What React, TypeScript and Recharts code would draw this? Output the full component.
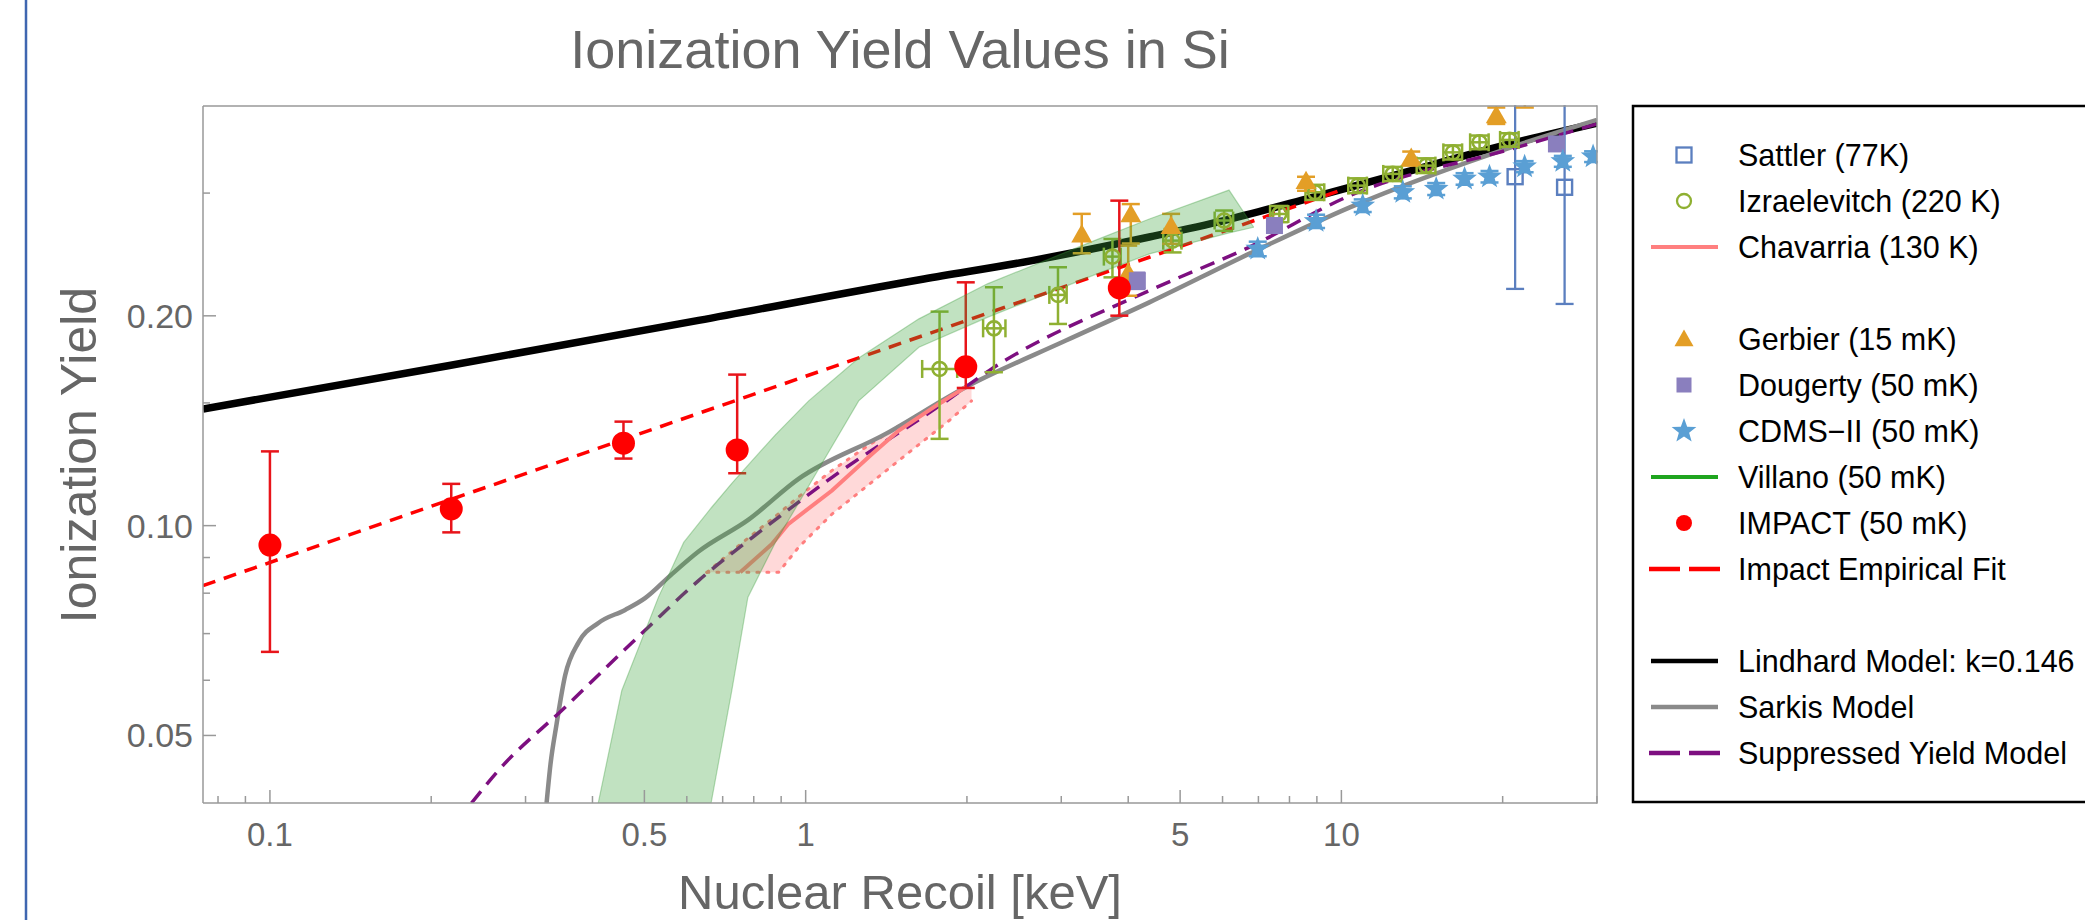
import React from 'react';
import { ComposedChart, XAxis, YAxis, Line, Area, Scatter, ErrorBar } from 'recharts';

const FONT = '"Liberation Sans", Arial, Helvetica, sans-serif';
const AXIS = '#999999';
const TXT = '#666666';

// ---------- axes ----------
const xDomain = [0.075, 30];
const yDomain = [0.04, 0.4];
const xTicks = [0.08, 0.09, 0.1, 0.2, 0.3, 0.4, 0.5, 0.6, 0.7, 0.8, 0.9, 1, 2, 3, 4, 5, 6, 7, 8, 9, 10, 20, 30];
const xMajor = [0.1, 0.5, 1, 5, 10];
const xMajorLabels = ['0.1', '0.5', '1', '5', '10'];
const yTicks = [0.05, 0.06, 0.07, 0.08, 0.09, 0.1, 0.15, 0.2, 0.3];
const yMajor = [0.05, 0.1, 0.2];
const yMajorLabels = ['0.05', '0.10', '0.20'];

// ---------- model curves ----------
const lindhardE = [0.075, 0.215, 0.631, 1.662, 2.645, 4.38, 6.04, 8.83, 12.47, 20.6, 30];
const lindhardY = [0.147, 0.1696, 0.197, 0.2259, 0.24, 0.2595, 0.274, 0.2958, 0.3178, 0.3529, 0.378];

const sarkisE = [0.3284, 0.334, 0.3428, 0.3557, 0.3768, 0.4103, 0.4602, 0.5015, 0.5627, 0.631, 0.7823, 0.97, 1.41, 1.989, 3.06, 4.38, 6.72, 10.37, 21.2, 30];
const sarkisY = [0.04, 0.0455, 0.0519, 0.061, 0.068, 0.0725, 0.0757, 0.0787, 0.0852, 0.0918, 0.102, 0.1167, 0.1354, 0.158, 0.1843, 0.2091, 0.2454, 0.2862, 0.351, 0.382];

const suppE = [0.2378, 0.2667, 0.3557, 0.5085, 0.631, 0.8408, 1.12, 1.798, 2.2, 4.38, 6.72, 10.37, 21.2, 30];
const suppY = [0.04, 0.0445, 0.0549, 0.0715, 0.0834, 0.0994, 0.1173, 0.1495, 0.1669, 0.2174, 0.2508, 0.2975, 0.3486, 0.377];

const fitE = [0.075, 0.631, 4.38, 10];
const fitY = [0.082, 0.1449, 0.2427, 0.303];

// ---------- Chavarria ----------
const chavE = [0.755, 0.865, 0.929, 1.12, 1.33, 1.492, 1.772, 1.989];
const chavY = [0.0857, 0.0941, 0.1006, 0.1123, 0.1267, 0.1369, 0.1495, 0.158];
const chavBandE = [0.654, 0.755, 0.89, 0.97, 1.12, 1.293, 1.492, 1.851, 2.04];
const chavBandLo = [0.0857, 0.0857, 0.0857, 0.0931, 0.1039, 0.1135, 0.124, 0.1414, 0.151];
const chavBandHi = [0.0857, 0.094, 0.104, 0.11, 0.12, 0.1295, 0.139, 0.152, 0.16];

// ---------- Villano band ----------
const villE = [0.41, 0.4537, 0.531, 0.592, 0.666, 0.728, 0.78, 0.878, 1.013, 1.256, 1.627, 2.184, 3.46, 4.38, 6.17, 6.86];
const villLo = [0.04, 0.04, 0.04, 0.04, 0.04, 0.058, 0.0789, 0.0946, 0.114, 0.151, 0.1803, 0.199, 0.229, 0.2454, 0.263, 0.268];
const villHi = [0.04, 0.058, 0.0789, 0.0946, 0.106, 0.115, 0.122, 0.135, 0.151, 0.174, 0.198, 0.2223, 0.2564, 0.2754, 0.303, 0.268];

// ---------- IMPACT ----------
const impactE = [0.1, 0.218, 0.457, 0.745, 1.99, 3.85];
const impactY = [0.0938, 0.1057, 0.1313, 0.1284, 0.169, 0.2193];
const impactLo = [0.0279, 0.0079, 0.0065, 0.0095, 0.0114, 0.0192];
const impactHi = [0.034, 0.0091, 0.0097, 0.0363, 0.0544, 0.0733];

// ---------- Izraelevitch ----------
const izE = [1.778, 2.246, 2.958, 3.738, 4.84, 6.04, 7.66, 8.93, 10.73, 12.47, 14.4, 16.15, 18.11, 20.6];
const izY = [0.1678, 0.1919, 0.2143, 0.2432, 0.2564, 0.274, 0.28, 0.3008, 0.3075, 0.3196, 0.3285, 0.3432, 0.3548, 0.3576];
const izYLo = [0.0346, 0.0259, 0.0196, 0.0161, 0.0098, 0.0092, 0.0075, 0.0075, 0.0075, 0.0075, 0.008, 0.008, 0.008, 0.008];
const izYHi = [0.035, 0.0279, 0.0205, 0.0146, 0.01, 0.0092, 0.0075, 0.0075, 0.0075, 0.0075, 0.008, 0.008, 0.008, 0.008];
const izXLo = [0.128, 0.102, 0.108, 0.135, 0.19, 0.24, 0.3, 0.36, 0.43, 0.5, 0.58, 0.65, 0.72, 0.82];
const izXHi = [0.14, 0.114, 0.112, 0.135, 0.19, 0.24, 0.3, 0.36, 0.43, 0.5, 0.58, 0.65, 0.72, 0.82];

// ---------- Gerbier ----------
const gerE = [3.276, 4.045, 4.0, 4.81, 8.59, 13.5, 19.46, 22.0];
const gerY = [0.2607, 0.2786, 0.2296, 0.268, 0.3109, 0.3358, 0.3863, 0.43];
const gerLo = [0.0148, 0.0246, 0.0159, 0.0143, 0.0086, 0.0073, 0.0093, 0.032];
const gerHi = [0.0194, 0.0107, 0.0226, 0.0121, 0.0057, 0.0083, 0.0117, 0.01];

// ---------- Dougerty ----------
const dougE = [4.16, 7.5, 25.2];
const dougY = [0.2246, 0.2695, 0.3529];
const dougErr = [0.006, 0.006, 0.006];

// ---------- CDMS-II ----------
const cdmsE = [6.98, 8.97, 10.96, 13.02, 15.03, 16.98, 18.9, 21.98, 25.9, 29.5];
const cdmsY = [0.2495, 0.2733, 0.2878, 0.3008, 0.3041, 0.3144, 0.3167, 0.3274, 0.3332, 0.3384];
const cdmsErr = [0.006, 0.006, 0.006, 0.006, 0.006, 0.006, 0.006, 0.006, 0.006, 0.006];

// ---------- Sattler ----------
const satE = [21.1, 26.1];
const satY = [0.3167, 0.3058];
const satLo = [0.0981, 0.0978];
const satHi = [0.15, 0.15];

// ---------- legend ----------
const legendLabels = [
  'Sattler (77K)', 'Izraelevitch (220 K)', 'Chavarria (130 K)', '',
  'Gerbier (15 mK)', 'Dougerty (50 mK)', 'CDMS\u2212II (50 mK)', 'Villano (50 mK)',
  'IMPACT (50 mK)', 'Impact Empirical Fit', '',
  'Lindhard Model: k=0.146', 'Sarkis Model', 'Suppressed Yield Model',
];
const legendIcons = [
  'openSquare', 'openCircle', 'pinkLine', '',
  'triangle', 'square', 'star', 'greenLine',
  'dot', 'redDash', '',
  'blackLine', 'grayLine', 'purpleDash',
];

// colours
const C_SAT = '#5b7fbf';
const C_IZ = '#8fb032';
const C_GER = '#e39e26';
const C_DOUG = '#8a7fbe';
const C_CDMS = '#5a9fd4';
const C_RED = '#ff0000';
const C_PURPLE = '#7d0f80';
const C_GRAY = '#8a8a8a';
const C_PINK = '#ff7f7f';

// ---------- helpers ----------
const pts = (xs: number[], ys: number[]) => xs.map((x, i) => ({ x, y: ys[i] }));
const band = (xs: number[], lo: number[], hi: number[]) => xs.map((x, i) => ({ x, range: [lo[i], hi[i]] }));
const withErr = (xs: number[], ys: number[], lo: number[], hi: number[], xlo?: number[], xhi?: number[]) =>
  xs.map((x, i) => ({ x, y: ys[i], ey: [lo[i], hi[i]], ex: xlo && xhi ? [xlo[i], xhi[i]] : [0, 0] }));

const lindhardData = pts(lindhardE, lindhardY);
const sarkisData = pts(sarkisE, sarkisY);
const suppData = pts(suppE, suppY);
const fitData = pts(fitE, fitY);
const chavData = pts(chavE, chavY);
const chavBand = band(chavBandE, chavBandLo, chavBandHi);
const villBand = band(villE, villLo, villHi);
const impactData = withErr(impactE, impactY, impactLo, impactHi);
const izData = withErr(izE, izY, izYLo, izYHi, izXLo, izXHi);
const gerData = withErr(gerE, gerY, gerLo, gerHi);
const dougData = withErr(dougE, dougY, dougErr, dougErr);
const cdmsData = withErr(cdmsE, cdmsY, cdmsErr, cdmsErr);
const satData = withErr(satE, satY, satLo, satHi);

// ---------- marker shapes ----------
const starPoints = (cx: number, cy: number, ro: number, ri: number) => {
  const p: string[] = [];
  for (let k = 0; k < 10; k++) {
    const r = k % 2 === 0 ? ro : ri;
    const a = -Math.PI / 2 + (k * Math.PI) / 5;
    p.push(`${cx + r * Math.cos(a)},${cy + r * Math.sin(a)}`);
  }
  return p.join(' ');
};
const triPoints = (cx: number, cy: number, s: number) =>
  `${cx},${cy - 1.1 * s} ${cx - s},${cy + 0.65 * s} ${cx + s},${cy + 0.65 * s}`;

const RedDot = (p: any) => <circle cx={p.cx} cy={p.cy} r={11.5} fill={C_RED} />;
const OpenCircle = (p: any) => <circle cx={p.cx} cy={p.cy} r={7} fill="none" stroke={C_IZ} strokeWidth={2.6} />;
const OpenSquare = (p: any) => <rect x={p.cx - 7.5} y={p.cy - 7.5} width={15} height={15} fill="none" stroke={C_SAT} strokeWidth={2.4} />;
const FilledSquare = (p: any) => <rect x={p.cx - 8.5} y={p.cy - 8.5} width={17} height={17} fill={C_DOUG} />;
const Tri = (p: any) => <polygon points={triPoints(p.cx, p.cy, 10.5)} fill={C_GER} />;
const StarShape = (p: any) => <polygon points={starPoints(p.cx, p.cy, 13, 5.4)} fill={C_CDMS} />;

// ---------- ticks ----------
const makeXTick = (isTop: boolean) => (props: any) => {
  const { x, y, payload } = props;
  const i = xMajor.indexOf(payload.value);
  const len = i >= 0 ? 13 : 7;
  return (
    <g>
      <line x1={x} x2={x} y1={y} y2={isTop ? y + len : y - len} stroke={AXIS} strokeWidth={1.5} />
      {!isTop && i >= 0 && (
        <text x={x} y={y + 43} textAnchor="middle" fontSize={33} fill={TXT} fontFamily={FONT}>
          {xMajorLabels[i]}
        </text>
      )}
    </g>
  );
};
const makeYTick = (isRight: boolean) => (props: any) => {
  const { x, y, payload } = props;
  const i = yMajor.indexOf(payload.value);
  const len = i >= 0 ? 13 : 7;
  return (
    <g>
      <line x1={x} x2={isRight ? x - len : x + len} y1={y} y2={y} stroke={AXIS} strokeWidth={1.5} />
      {!isRight && i >= 0 && (
        <text x={x - 10} y={y + 12} textAnchor="end" fontSize={34} fill={TXT} fontFamily={FONT}>
          {yMajorLabels[i]}
        </text>
      )}
    </g>
  );
};
const XTickBottom = makeXTick(false);
const XTickTop = makeXTick(true);
const YTickLeft = makeYTick(false);
const YTickRight = makeYTick(true);

// ---------- legend icon ----------
const LegendIcon = ({ kind, cy }: { kind: string; cy: number }) => {
  const cx = 1684;
  switch (kind) {
    case 'openSquare':
      return <rect x={cx - 7.5} y={cy - 7.5} width={15} height={15} fill="none" stroke={C_SAT} strokeWidth={2.3} />;
    case 'openCircle':
      return <circle cx={cx} cy={cy} r={7} fill="none" stroke={C_IZ} strokeWidth={2.3} />;
    case 'pinkLine':
      return <line x1={1651} x2={1718} y1={cy} y2={cy} stroke={C_PINK} strokeWidth={4} />;
    case 'triangle':
      return <polygon points={triPoints(cx, cy + 1, 9.5)} fill={C_GER} />;
    case 'square':
      return <rect x={cx - 7.5} y={cy - 7.5} width={15} height={15} fill={C_DOUG} />;
    case 'star':
      return <polygon points={starPoints(cx, cy, 13, 5.4)} fill={C_CDMS} />;
    case 'greenLine':
      return <line x1={1651} x2={1718} y1={cy} y2={cy} stroke="#1fa51f" strokeWidth={4} />;
    case 'dot':
      return <circle cx={cx} cy={cy} r={8} fill={C_RED} />;
    case 'redDash':
      return <line x1={1649} x2={1720} y1={cy} y2={cy} stroke={C_RED} strokeWidth={4.5} strokeDasharray="31 9" />;
    case 'blackLine':
      return <line x1={1651} x2={1718} y1={cy} y2={cy} stroke="#000" strokeWidth={4.5} />;
    case 'grayLine':
      return <line x1={1651} x2={1718} y1={cy} y2={cy} stroke={C_GRAY} strokeWidth={4.5} />;
    case 'purpleDash':
      return <line x1={1649} x2={1720} y1={cy} y2={cy} stroke={C_PURPLE} strokeWidth={4.5} strokeDasharray="31 9" />;
    default:
      return null;
  }
};

export default function App() {
  return (
    <div style={{ position: 'absolute', left: 0, top: 0, width: 2085, height: 920, overflow: 'hidden', background: '#fff' }}>
      <div style={{ position: 'absolute', left: 0, top: 0 }}>
        <ComposedChart width={2085} height={920} margin={{ top: 106, right: 488, bottom: 0, left: 0 }}>
          <XAxis
            dataKey="x" type="number" scale="log" domain={xDomain} allowDataOverflow ticks={xTicks} interval={0}
            tickSize={0} tickMargin={0} tick={XTickBottom} tickLine={false}
            axisLine={{ stroke: AXIS, strokeWidth: 1.5 }} height={117} orientation="bottom"
          />
          <XAxis
            xAxisId="top" dataKey="x" type="number" scale="log" domain={xDomain} allowDataOverflow ticks={xTicks} interval={0}
            tickSize={0} tickMargin={0} tick={XTickTop} tickLine={false}
            axisLine={{ stroke: AXIS, strokeWidth: 1.5 }} height={0} orientation="top"
          />
          <YAxis
            type="number" scale="log" domain={yDomain} allowDataOverflow ticks={yTicks} interval={0}
            tickSize={0} tickMargin={0} tick={YTickLeft} tickLine={false}
            axisLine={{ stroke: AXIS, strokeWidth: 1.5 }} width={203} orientation="left"
          />
          <YAxis
            yAxisId="right" type="number" scale="log" domain={yDomain} allowDataOverflow ticks={yTicks} interval={0}
            tickSize={0} tickMargin={0} tick={YTickRight} tickLine={false}
            axisLine={{ stroke: AXIS, strokeWidth: 1.5 }} width={0} orientation="right"
          />

          <Line data={lindhardData} dataKey="y" type="monotone" stroke="#000" strokeWidth={7.5} dot={false} activeDot={false} isAnimationActive={false} />
          <Line data={sarkisData} dataKey="y" type="monotone" stroke={C_GRAY} strokeWidth={4.5} dot={false} activeDot={false} isAnimationActive={false} />
          <Line data={fitData} dataKey="y" type="linear" stroke={C_RED} strokeWidth={3.5} strokeDasharray="13 9" dot={false} activeDot={false} isAnimationActive={false} />
          <Line data={suppData} dataKey="y" type="monotone" stroke={C_PURPLE} strokeWidth={3.5} strokeDasharray="15 9" dot={false} activeDot={false} isAnimationActive={false} />

          <Area data={chavBand} dataKey="range" type="linear" stroke={C_PINK} strokeWidth={3} strokeDasharray="2 8" strokeLinecap="round"
            fill="#ff0000" fillOpacity={0.15} isAnimationActive={false} dot={false} activeDot={false} />
          <Line data={chavData} dataKey="y" type="linear" stroke={C_PINK} strokeWidth={4} dot={false} activeDot={false} isAnimationActive={false} />
          <Area data={villBand} dataKey="range" type="linear" stroke="#3a9a3a" strokeOpacity={0.35} strokeWidth={1.2}
            fill="#3fa63f" fillOpacity={0.32} isAnimationActive={false} dot={false} activeDot={false} zIndex={450} />

          <Scatter data={satData} dataKey="y" shape={OpenSquare} isAnimationActive={false}>
            <ErrorBar dataKey="ey" direction="y" width={9} stroke={C_SAT} strokeWidth={2.3} isAnimationActive={false} />
          </Scatter>
          <Scatter data={izData} dataKey="y" shape={OpenCircle} isAnimationActive={false}>
            <ErrorBar dataKey="ey" direction="y" width={9} stroke={C_IZ} strokeWidth={2.5} isAnimationActive={false} />
            <ErrorBar dataKey="ex" direction="x" width={9} stroke={C_IZ} strokeWidth={2.5} isAnimationActive={false} />
          </Scatter>
          <Scatter data={gerData} dataKey="y" shape={Tri} isAnimationActive={false}>
            <ErrorBar dataKey="ey" direction="y" width={9} stroke={C_GER} strokeWidth={2.5} isAnimationActive={false} />
          </Scatter>
          <Scatter data={dougData} dataKey="y" shape={FilledSquare} isAnimationActive={false}>
            <ErrorBar dataKey="ey" direction="y" width={8} stroke={C_DOUG} strokeWidth={2.5} isAnimationActive={false} />
          </Scatter>
          <Scatter data={cdmsData} dataKey="y" shape={StarShape} isAnimationActive={false}>
            <ErrorBar dataKey="ey" direction="y" width={9} stroke={C_CDMS} strokeWidth={2.5} isAnimationActive={false} />
          </Scatter>
          <Scatter data={impactData} dataKey="y" shape={RedDot} isAnimationActive={false}>
            <ErrorBar dataKey="ey" direction="y" width={9} stroke="#e8141a" strokeWidth={2.5} isAnimationActive={false} />
          </Scatter>
        </ComposedChart>
      </div>

      <svg width={2085} height={920} style={{ position: 'absolute', left: 0, top: 0, pointerEvents: 'none' }}>
        {/* white margins hiding error bars that run past the plot frame */}
        <rect x={190} y={0} width={1420} height={105.2} fill="#fff" />
        <rect x={1597.8} y={100} width={33} height={710} fill="#fff" />
        <line x1={203} x2={1597} y1={106} y2={106} stroke={AXIS} strokeWidth={1.5} />
        <line x1={1597} x2={1597} y1={105.25} y2={803.75} stroke={AXIS} strokeWidth={1.5} />

        <line x1={26} x2={26} y1={0} y2={920} stroke="#3f66b0" strokeWidth={2.5} />
        <text x={900} y={68} textAnchor="middle" fontSize={54} fill={TXT} fontFamily={FONT}>
          Ionization Yield Values in Si
        </text>
        <text x={900} y={909} textAnchor="middle" fontSize={49} fill={TXT} fontFamily={FONT}>
          Nuclear Recoil [keV]
        </text>
        <text transform="translate(96,455) rotate(-90)" textAnchor="middle" fontSize={50} fill={TXT} fontFamily={FONT}>
          Ionization Yield
        </text>

        <rect x={1633} y={106} width={600} height={696} fill="none" stroke="#000" strokeWidth={2.5} />
        {legendLabels.map((lab, i) => {
          const cy = 155 + 46 * i;
          if (!lab) return null;
          return (
            <g key={i}>
              <LegendIcon kind={legendIcons[i]} cy={cy} />
              <text x={1738} y={cy + 11} fontSize={30.5} fill="#000" fontFamily={FONT}>
                {lab}
              </text>
            </g>
          );
        })}
      </svg>
    </div>
  );
}
